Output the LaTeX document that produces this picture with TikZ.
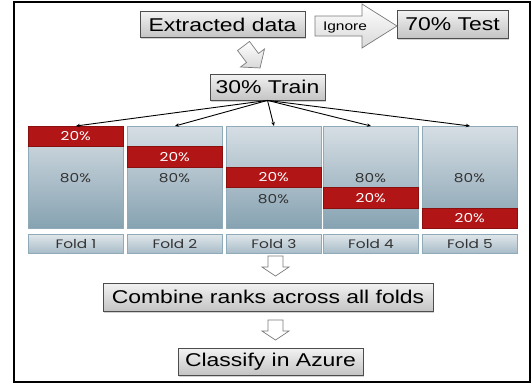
\documentclass[tikz,border=0pt]{standalone}
\usepackage{fontspec}
\setmainfont{Liberation Sans}[FakeStretch=1.24]
\newfontfamily\geo{Poppins}[FakeStretch=1.25]
\usetikzlibrary{shadows,arrows.meta}

\definecolor{boxedge}{HTML}{4D4D4D}
\definecolor{boxtop}{HTML}{F2F2F2}
\definecolor{boxbot}{HTML}{C4C4C4}
\definecolor{coltop}{HTML}{D6DEE4}
\definecolor{colbot}{HTML}{86A2B1}
\definecolor{coledge}{HTML}{8FAAB8}
\definecolor{foldtop}{HTML}{E0E6EA}
\definecolor{foldbot}{HTML}{A6BBC7}
\definecolor{bandred}{HTML}{B11515}
\definecolor{bandedge}{HTML}{8A1010}
\definecolor{pcttext}{HTML}{333333}
\definecolor{arrowedge}{HTML}{7A7A7A}

\tikzset{
  greybox/.style={draw=boxedge, line width=0.8pt, top color=boxtop, bottom color=boxbot,
    drop shadow={shadow xshift=1.2pt, shadow yshift=-1.5pt, opacity=0.35},
    inner sep=0pt, font=\fontsize{18.5}{20}\selectfont},
  column/.style={draw=coledge, line width=0.9pt, top color=coltop, bottom color=colbot,
    minimum width=95pt, minimum height=102pt, inner sep=0pt, anchor=north west},
  band/.style={draw=bandedge, line width=0.5pt, fill=bandred,
    minimum width=95pt, minimum height=20.4pt, inner sep=0pt, anchor=north west},
  foldbox/.style={draw=coledge, line width=0.9pt, top color=foldtop, bottom color=foldbot,
    minimum width=95pt, minimum height=19pt, inner sep=0pt, anchor=north west,
    font=\geo\fontsize{12.3}{13}\selectfont, text=pcttext},
  pct/.style={font=\geo\fontsize{12.3}{13}\selectfont, inner sep=0pt},
  blockarrow/.style={draw=arrowedge, line width=0.7pt, top color=white, bottom color=gray!30},
  splitline/.style={line width=0.9pt, -{Stealth[length=4pt,width=3.5pt]}},
  dnarrow/.pic={\draw[draw=arrowedge, line width=0.7pt, fill=white]
    (-7.5,0) -- (7.5,0) -- (7.5,11) -- (13.5,11) -- (0,20) -- (-13.5,11) -- (-7.5,11) -- cycle;}
}

\begin{document}
\begin{tikzpicture}[x=1pt, y=-1pt]
\useasboundingbox (0,0) rectangle (532,384);
\fill[white] (0,0) rectangle (532,384);
\draw[line width=2pt] (13.5,2) rectangle (530,382);

% top row: source data, ignored test share
\node[greybox, minimum width=165pt, minimum height=26pt] (extract) at (222.5,24.5) {Extracted data};
\node[greybox, minimum width=111pt, minimum height=28pt] (test) at (452.5,24) {70\% Test};

% block arrow labelled Ignore
\draw[blockarrow] (315,16) -- (362,16) -- (362,4) -- (397,26) -- (362,48) -- (362,36) -- (315,36) -- cycle;
\node[font=\fontsize{12.5}{13}\selectfont, inner sep=0pt] (ignore) at (345,27) {Ignore};

% slanted block arrow down to the training share
\begin{scope}[shift={(243.5,46)}, rotate=-53]
  \draw[blockarrow] (0,-7.5) -- (15,-7.5) -- (15,-15) -- (27.5,0) -- (15,15) -- (15,7.5) -- (0,7.5) -- cycle;
\end{scope}

\node[greybox, minimum width=115pt, minimum height=26pt] (train) at (267.5,87) {30\% Train};

% five folds, each with its 20% held-out band
\foreach \i/\x in {1/28, 2/127, 3/226, 4/323, 5/422} {
  \node[column] (col\i) at (\x,126) {};
  \node[band] (band\i) at (\x,{126+20.4*(\i-1)}) {};
  \node[pct, text=white] (low\i) at (band\i.center) {20\%};
  \node[foldbox] (fold\i) at (\x,234) {Fold \i};
  \draw[splitline] (train.south) -- (col\i.north);
}
\node[pct, text=pcttext] (high1) at (75.5,178) {80\%};
\node[pct, text=pcttext] (high2) at (174.5,178) {80\%};
\node[pct, text=pcttext] (high3) at (273.5,199) {80\%};
\node[pct, text=pcttext] (high4) at (370.5,178) {80\%};
\node[pct, text=pcttext] (high5) at (469.5,178) {80\%};

% combining and final classification
\pic at (275.5,256) {dnarrow};
\node[greybox, minimum width=330pt, minimum height=28pt] (combine) at (268,297) {Combine ranks across all folds};
\pic at (275.5,320) {dnarrow};
\node[greybox, minimum width=185pt, minimum height=27pt] (classify) at (270.5,361.5) {Classify in Azure};
\end{tikzpicture}
\end{document}
